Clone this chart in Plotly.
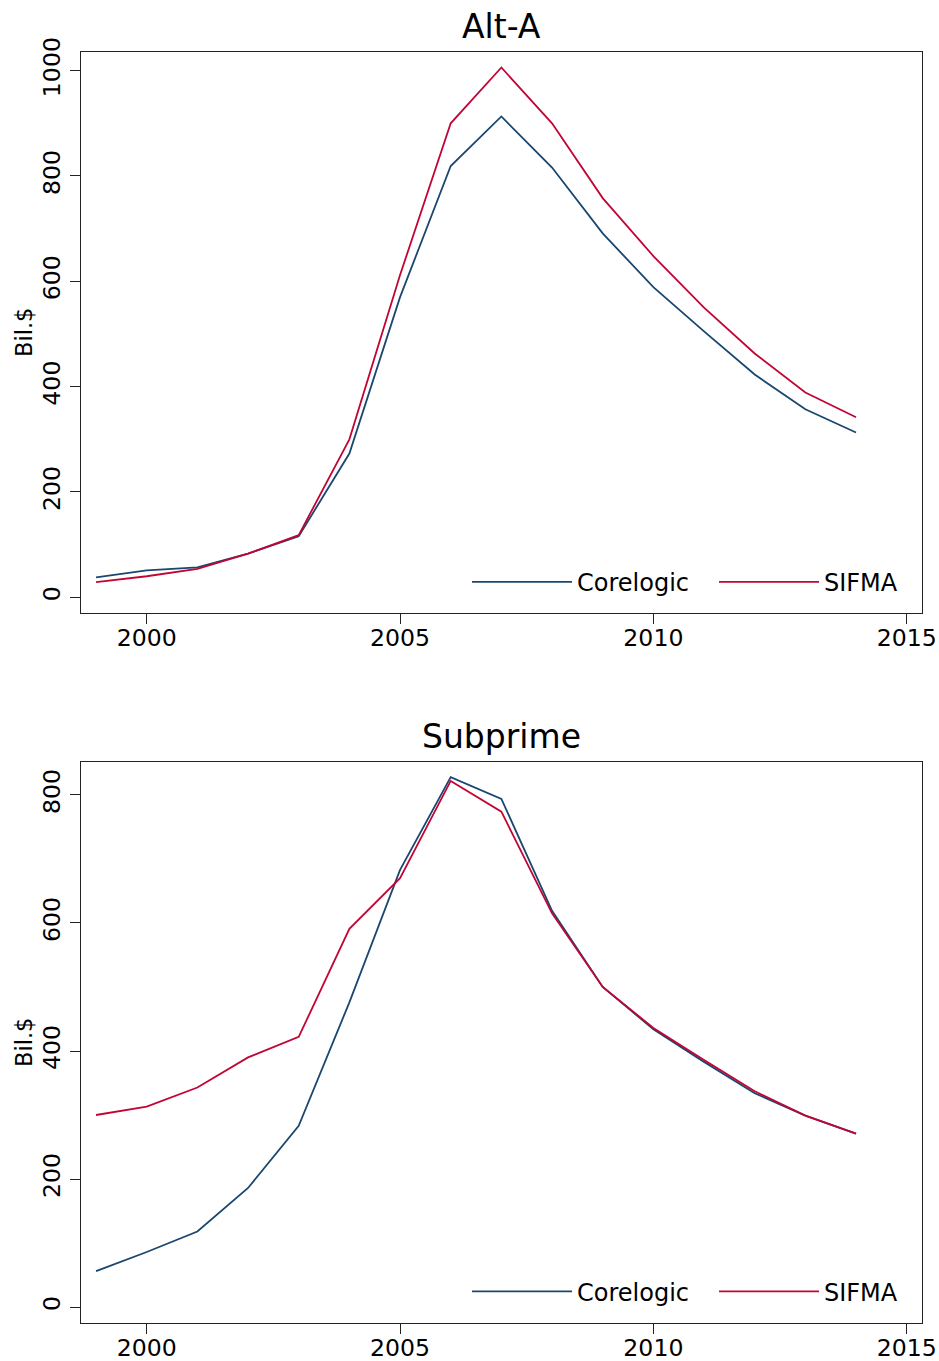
import plotly.graph_objects as go

years = list(range(1999, 2015))

alta_corelogic = [38, 51, 57, 83, 116, 273, 570, 819, 913, 816, 691, 589, 505, 423, 357, 313]
alta_sifma = [29, 40, 54, 83, 118, 300, 612, 900, 1006, 900, 758, 648, 550, 463, 389, 342]

sub_corelogic = [56, 86, 118, 186, 283, 476, 683, 828, 794, 619, 500, 434, 383, 334, 299, 271]
sub_sifma = [300, 313, 343, 390, 422, 591, 670, 822, 774, 615, 500, 436, 386, 337, 299, 271]

series_names = ["Corelogic", "SIFMA"]
panel_titles = ["Alt-A", "Subprime"]
ytitle = "Bil.$"
xticks = [2000, 2005, 2010, 2015]

BLUE = "#1a476f"
RED = "#c10534"
FONT = "DejaVu Sans"

W, H = 939, 1361

def py(px):  # page pixel from top -> paper y
    return 1 - px / H

def pxx(px):  # page pixel from left -> paper x
    return px / W

fig = go.Figure()

fig.add_trace(go.Scatter(x=years, y=alta_corelogic, mode="lines", name=series_names[0],
                         line=dict(color=BLUE, width=1.8), xaxis="x", yaxis="y", legend="legend"))
fig.add_trace(go.Scatter(x=years, y=alta_sifma, mode="lines", name=series_names[1],
                         line=dict(color=RED, width=1.8), xaxis="x", yaxis="y", legend="legend"))
fig.add_trace(go.Scatter(x=years, y=sub_corelogic, mode="lines", name=series_names[0],
                         line=dict(color=BLUE, width=1.8), xaxis="x2", yaxis="y2", legend="legend2"))
fig.add_trace(go.Scatter(x=years, y=sub_sifma, mode="lines", name=series_names[1],
                         line=dict(color=RED, width=1.8), xaxis="x2", yaxis="y2", legend="legend2"))

xdom = [pxx(80.7), pxx(921.7)]
axis_common = dict(showgrid=False, zeroline=False, showline=True, mirror=True,
                   automargin=False,
                   linecolor="#222", linewidth=1.4, ticks="outside", ticklen=10,
                   tickwidth=1.2, tickcolor="#222",
                   tickfont=dict(family=FONT, size=23.6, color="black"))

legend_common = dict(orientation="h", xanchor="left", yanchor="middle",
                     itemwidth=100, entrywidth=132, entrywidthmode="pixels",
                     font=dict(family=FONT, size=24, color="black"),
                     bgcolor="rgba(0,0,0,0)", borderwidth=0)

fig.update_layout(
    template="none",
    width=W, height=H,
    margin=dict(l=0, r=0, t=0, b=0, autoexpand=False),
    paper_bgcolor="white", plot_bgcolor="white",
    font=dict(family=FONT, color="black"),
    xaxis=dict(domain=xdom, anchor="y", range=[1998.697, 2015.296],
               tickvals=xticks, ticklabelstandoff=-6, **axis_common),
    yaxis=dict(domain=[py(612.7), py(51.7)], anchor="x", range=[-29.2, 1036],
               dtick=200, tick0=0, tickangle=-90, **axis_common),
    xaxis2=dict(domain=xdom, anchor="y2", range=[1998.697, 2015.296],
                tickvals=xticks, ticklabelstandoff=-6, **axis_common),
    yaxis2=dict(domain=[py(1322.7), py(761.7)], anchor="x2", range=[-24.5, 852],
                dtick=200, tick0=0, tickangle=-90, **axis_common),
    legend=dict(x=pxx(467), y=py(582.3), **legend_common),
    legend2=dict(x=pxx(467), y=py(1291.7), **legend_common),
    showlegend=True,
)

annotations = [
    dict(text=panel_titles[0], x=pxx(501), y=py(26), xref="paper", yref="paper",
         showarrow=False, xanchor="center", yanchor="middle",
         font=dict(family=FONT, size=33, color="black")),
    dict(text=panel_titles[1], x=pxx(501), y=py(736), xref="paper", yref="paper",
         showarrow=False, xanchor="center", yanchor="middle",
         font=dict(family=FONT, size=33, color="black")),
    dict(text=ytitle, x=pxx(24), y=py(333), xref="paper", yref="paper",
         showarrow=False, xanchor="center", yanchor="middle", textangle=-90,
         font=dict(family=FONT, size=22.5, color="black")),
    dict(text=ytitle, x=pxx(24), y=py(1043), xref="paper", yref="paper",
         showarrow=False, xanchor="center", yanchor="middle", textangle=-90,
         font=dict(family=FONT, size=22.5, color="black")),
]
fig.update_layout(annotations=annotations)

fig.write_html("out.html",
               config={"displayModeBar": False},
               post_script="document.body.style.margin='0';document.body.style.overflow='hidden';")
